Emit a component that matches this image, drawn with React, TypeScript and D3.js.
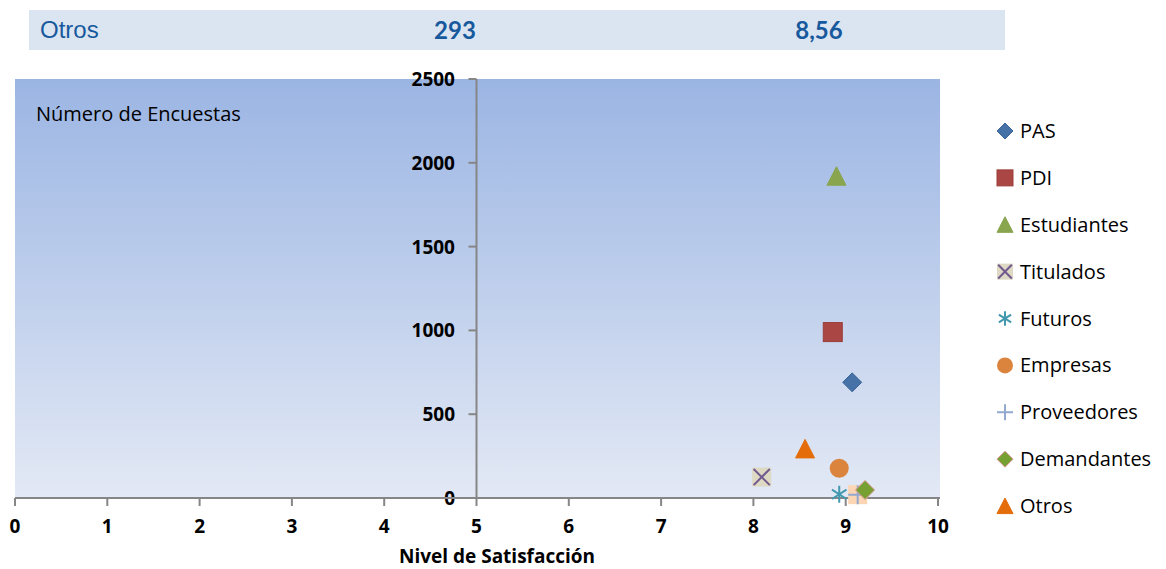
import React from "react";
import * as d3 from "d3";

const seriesNames = ["PAS", "PDI", "Estudiantes", "Titulados", "Futuros", "Empresas", "Proveedores", "Demandantes", "Otros"];
const satisfaction = [9.07, 8.86, 8.9, 8.09, 8.93, 8.93, 9.13, 9.21, 8.56];
const surveys = [690, 990, 1920, 125, 22, 178, 20, 48, 293];
const xTicks = [0, 1, 2, 3, 4, 5, 6, 7, 8, 9, 10];
const yTicks = [0, 500, 1000, 1500, 2000, 2500];
const headerRow = ["Otros", "293", "8,56"];

const W = 1166, H = 569;
const FONT = "'Open Sans', Lato, sans-serif";

type MarkerStyle = { shape: string; fill: string; stroke: string; bg?: string };
const markerStyles: MarkerStyle[] = [
  { shape: "diamond", fill: "#4672a8", stroke: "#3e6597" },
  { shape: "square", fill: "#aa4643", stroke: "#9b3e3b" },
  { shape: "triangle", fill: "#89a54e", stroke: "#89a54e" },
  { shape: "x", fill: "#ddd9c3", stroke: "#71588f" },
  { shape: "star", fill: "none", stroke: "#4198af" },
  { shape: "circle", fill: "#db843d", stroke: "#db843d" },
  { shape: "plus", fill: "none", stroke: "#93a9cf", bg: "#fcd5b5" },
  { shape: "diamond", fill: "#77a033", stroke: "#d99694" },
  { shape: "triangle", fill: "#e46c0a", stroke: "#e46c0a" },
];

function Marker({ cx, cy, st, size, legend }: { cx: number; cy: number; st: MarkerStyle; size: number; legend?: boolean }) {
  const h = size / 2;
  const els: React.ReactNode[] = [];
  if (st.bg && !legend) {
    els.push(<rect key="bg" x={cx - h} y={cy - h} width={size} height={size} fill={st.bg} />);
  }
  switch (st.shape) {
    case "diamond":
      els.push(<path key="m" d={`M${cx},${cy - h}L${cx + h},${cy}L${cx},${cy + h}L${cx - h},${cy}Z`} fill={st.fill} stroke={st.stroke} strokeWidth={1} />);
      break;
    case "square":
      els.push(<rect key="m" x={cx - h} y={cy - h} width={size} height={size} fill={st.fill} stroke={st.stroke} strokeWidth={1} />);
      break;
    case "triangle":
      els.push(<path key="m" d={`M${cx},${cy - h}L${cx + h},${cy + h * 0.95}L${cx - h},${cy + h * 0.95}Z`} fill={st.fill} stroke={st.stroke} strokeWidth={1} />);
      break;
    case "x":
      els.push(<rect key="b" x={cx - h} y={cy - h} width={size} height={size} fill={st.fill} />);
      els.push(<path key="m" d={`M${cx - h * 0.85},${cy - h * 0.85}L${cx + h * 0.85},${cy + h * 0.85}M${cx + h * 0.85},${cy - h * 0.85}L${cx - h * 0.85},${cy + h * 0.85}`} stroke={st.stroke} strokeWidth={2} />);
      break;
    case "star": {
      const r = h * 0.9;
      els.push(<path key="m" d={`M${cx},${cy - r}L${cx},${cy + r}M${cx - r * 0.85},${cy - r * 0.55}L${cx + r * 0.85},${cy + r * 0.55}M${cx + r * 0.85},${cy - r * 0.55}L${cx - r * 0.85},${cy + r * 0.55}`} stroke={st.stroke} strokeWidth={2} />);
      break;
    }
    case "circle":
      els.push(<circle key="m" cx={cx} cy={cy} r={h} fill={st.fill} />);
      break;
    case "plus":
      els.push(<path key="m" d={`M${cx - h},${cy}L${cx + h},${cy}M${cx},${cy - h}L${cx},${cy + h}`} stroke={st.stroke} strokeWidth={2} />);
      break;
  }
  return <g>{els}</g>;
}

export default function App() {
  const plot = { left: 15, right: 940, top: 79, bottom: 498 };
  const x = d3.scaleLinear().domain([0, 10]).range([plot.left, 938]);
  const y = d3.scaleLinear().domain([0, 2500]).range([plot.bottom, plot.top]);
  const axisX = x(5);
  const legendY = d3.scaleLinear().domain([0, seriesNames.length - 1]).range([131, 506]);

  return (
    <svg width={W} height={H} style={{ position: "absolute", left: 0, top: 0, background: "#fff" }} fontFamily={FONT}>
      <defs>
        <linearGradient id="bgGrad" x1="0" y1="0" x2="0" y2="1">
          <stop offset="0" stopColor="#9bb5e3" />
          <stop offset="1" stopColor="#e3e9f5" />
        </linearGradient>
      </defs>
      {/* header row */}
      <rect x={29} y={10} width={976} height={40} fill="#dbe5f1" />
      <text x={40} y={38} fontSize={24} fill="#17599c" fontFamily="'Liberation Sans', sans-serif" fontWeight={300}>{headerRow[0]}</text>
      <text x={455} y={39} fontSize={24} fill="#17599c" fontWeight="bold" textAnchor="middle" fontFamily="Lato, sans-serif">{headerRow[1]}</text>
      <text x={819} y={39} fontSize={24} fill="#17599c" fontWeight="bold" textAnchor="middle" fontFamily="Lato, sans-serif">{headerRow[2]}</text>

      {/* plot area */}
      <rect x={plot.left} y={plot.top} width={plot.right - plot.left} height={plot.bottom - plot.top} fill="url(#bgGrad)" />
      <text x={36} y={121} fontSize={20} fill="#000">Número de Encuestas</text>

      {/* y axis */}
      <line x1={axisX} x2={axisX} y1={plot.top} y2={plot.bottom} stroke="#868686" strokeWidth={2} />
      {yTicks.map((t) => (
        <g key={"y" + t}>
          <line x1={axisX - 8} x2={axisX} y1={y(t)} y2={y(t)} stroke="#868686" strokeWidth={2} />
          <text x={455} y={y(t) + 7} fontSize={19} fontWeight="bold" textAnchor="end" fill="#000">{t}</text>
        </g>
      ))}

      {/* x axis */}
      <line x1={plot.left} x2={plot.right} y1={plot.bottom} y2={plot.bottom} stroke="#868686" strokeWidth={2} />
      {xTicks.map((t) => (
        <g key={"x" + t}>
          <line x1={x(t)} x2={x(t)} y1={plot.bottom} y2={plot.bottom + 8} stroke="#868686" strokeWidth={2} />
          <text x={x(t)} y={533} fontSize={19} fontWeight="bold" textAnchor="middle" fill="#000">{t}</text>
        </g>
      ))}
      <text x={497} y={563} fontSize={19} fontWeight="bold" textAnchor="middle" fill="#000">Nivel de Satisfacción</text>

      {/* points */}
      {seriesNames.map((n, i) => (
        <Marker key={n} cx={x(satisfaction[i])} cy={y(surveys[i])} st={markerStyles[i]} size={19} />
      ))}

      {/* legend */}
      {seriesNames.map((n, i) => (
        <g key={"l" + n}>
          <Marker cx={1005} cy={legendY(i)} st={markerStyles[i]} size={16} legend />
          <text x={1020} y={legendY(i) + 7} fontSize={20} fill="#000">{n}</text>
        </g>
      ))}
    </svg>
  );
}
